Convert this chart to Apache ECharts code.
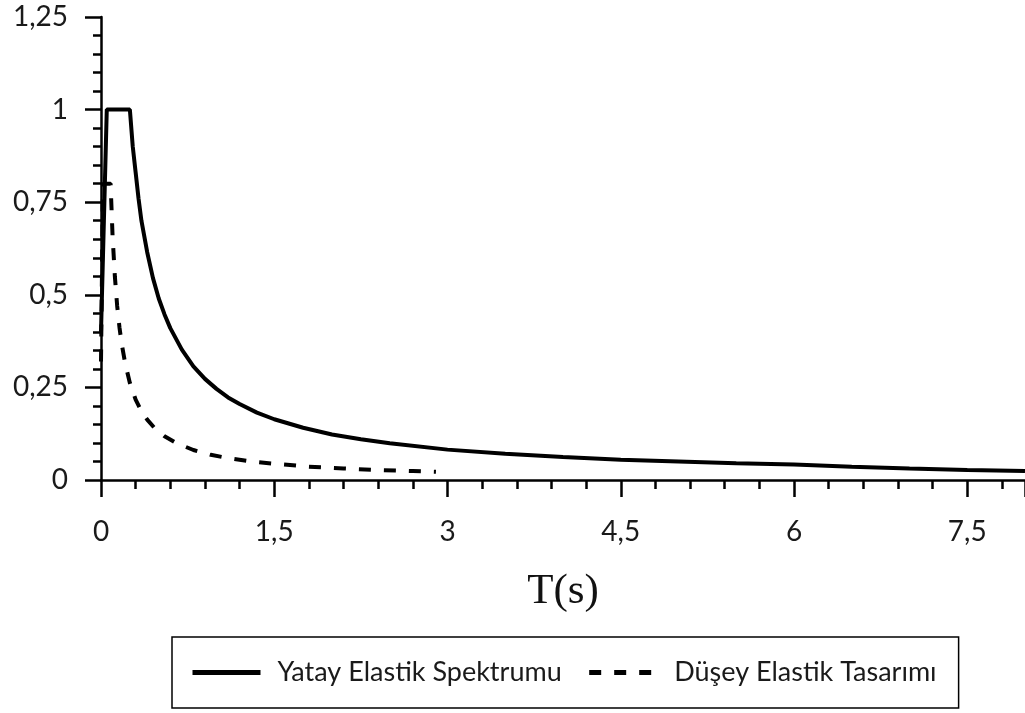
<!DOCTYPE html>
<html>
<head>
<meta charset="utf-8">
<script src="https://cdn.jsdelivr.net/npm/echarts@6/dist/echarts.min.js"></script>
<style>
  html, body { margin: 0; padding: 0; background: #fff; }
  #chart { width: 1025px; height: 713px; }
</style>
</head>
<body>
<div id="chart"></div>
<script>
// Period T (s) and normalized spectral values
const yatayT = [0, 0.05, 0.25, 0.275, 0.3, 0.325, 0.35, 0.4, 0.45, 0.5, 0.55, 0.6, 0.7, 0.8, 0.9, 1.0, 1.1, 1.2, 1.35, 1.5, 1.75, 2.0, 2.25, 2.5, 3.0, 3.5, 4.0, 4.5, 5.0, 5.5, 6.0, 6.5, 7.0, 7.5, 8.0];
const yatayS = [0.4, 1.0, 1.0, 0.9, 0.83, 0.76, 0.7, 0.615, 0.545, 0.49, 0.447, 0.41, 0.352, 0.307, 0.273, 0.246, 0.223, 0.205, 0.182, 0.164, 0.141, 0.123, 0.11, 0.099, 0.082, 0.071, 0.062, 0.055, 0.05, 0.045, 0.042, 0.036, 0.031, 0.027, 0.024];

const duseyT = [0, 0.017, 0.083, 0.1, 0.12, 0.14, 0.16, 0.18, 0.21, 0.25, 0.3, 0.35, 0.4, 0.47, 0.55, 0.65, 0.8, 0.95, 1.1, 1.3, 1.5, 1.8, 2.1, 2.4, 2.7, 2.9];
const duseyS = [0.32, 0.8, 0.8, 0.66, 0.55, 0.47, 0.412, 0.366, 0.314, 0.262, 0.217, 0.186, 0.163, 0.138, 0.118, 0.1, 0.081, 0.068, 0.059, 0.05, 0.044, 0.036, 0.031, 0.027, 0.024, 0.022];

const seriesNames = ['Yatay Elastik Spektrumu', 'Düşey Elastik Tasarımı'];
const xAxisName = 'T(s)';

const pairs = (xs, ys) => xs.map((x, i) => [x, ys[i]]);
const fmt = v => String(v).replace('.', ',');

const chart = echarts.init(document.getElementById('chart'));
const labelFont = { fontFamily: 'Lato', fontSize: 28, color: '#1a1a1a' };

chart.setOption({
  animation: false,
  backgroundColor: '#fff',
  grid: { left: 101, top: 17, right: 0, bottom: 233, containLabel: false },
  xAxis: {
    type: 'value', min: 0, max: 8, interval: 1.5,
    name: xAxisName, nameLocation: 'middle', nameGap: 90,
    nameTextStyle: { fontFamily: 'Liberation Serif', fontSize: 43, color: '#111' },
    axisLine: { show: true, onZero: false, lineStyle: { color: '#000', width: 2.5 } },
    axisTick: { show: true, length: 17, lineStyle: { color: '#000', width: 2.5 } },
    minorTick: { show: true, splitNumber: 5, length: 9, lineStyle: { color: '#000', width: 2.5 } },
    splitLine: { show: false },
    axisLabel: Object.assign({ margin: 38, formatter: fmt, showMaxLabel: false }, labelFont)
  },
  yAxis: {
    type: 'value', min: 0, max: 1.25, interval: 0.25,
    axisLine: { show: true, onZero: false, lineStyle: { color: '#000', width: 2.5 } },
    axisTick: { show: true, length: 16, lineStyle: { color: '#000', width: 2.5 } },
    minorTick: { show: true, splitNumber: 5, length: 8, lineStyle: { color: '#000', width: 2.5 } },
    splitLine: { show: false },
    axisLabel: Object.assign({ margin: 33, formatter: fmt }, labelFont)
  },
  legend: {
    left: 172, top: 637,
    orient: 'horizontal',
    padding: [22, 22, 22, 18],
    borderColor: '#000', borderWidth: 1.5,
    itemWidth: 68, itemHeight: 14, itemGap: 25,
    itemStyle: { opacity: 0 },
    lineStyle: { width: 5 },
    textStyle: { fontFamily: 'Lato', fontSize: 27, color: '#1a1a1a', padding: [0, 0, 0, 12] },
    data: seriesNames
  },
  series: [
    {
      name: seriesNames[0], type: 'line', symbol: 'none',
      data: pairs(yatayT, yatayS),
      lineStyle: { color: '#000', width: 4 },
      itemStyle: { color: '#000' }
    },
    {
      name: seriesNames[1], type: 'line', symbol: 'none',
      data: pairs(duseyT, duseyS),
      lineStyle: { color: '#000', width: 4, type: [12, 13], cap: 'butt' },
      itemStyle: { color: '#000' }
    }
  ]
});
</script>
</body>
</html>
